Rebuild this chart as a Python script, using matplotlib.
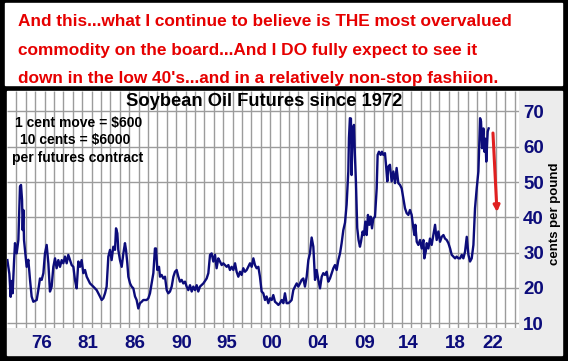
import matplotlib
matplotlib.use('Agg')
import matplotlib.pyplot as plt
from matplotlib.patches import Rectangle

plt.rcParams['font.family'] = ['Liberation Sans', 'DejaVu Sans']

# Soybean oil futures, cents per pound
years = [1972.04, 1972.25, 1972.39, 1972.50, 1972.60, 1972.74, 1972.85, 1973.03, 1973.21, 1973.38,
         1973.49, 1973.60, 1973.67, 1973.74, 1973.81, 1973.91, 1974.09, 1974.27, 1974.45, 1974.62,
         1974.80, 1975.16, 1975.33, 1975.51, 1975.69, 1975.87, 1976.04, 1976.22, 1976.40, 1976.57,
         1976.75, 1976.93, 1977.11, 1977.28, 1977.46, 1977.64, 1977.82, 1977.99, 1978.17, 1978.35,
         1978.52, 1978.70, 1978.88, 1979.06, 1979.23, 1979.41, 1979.59, 1979.77, 1979.94, 1980.12,
         1980.30, 1980.48, 1980.83, 1981.18, 1981.54, 1981.89, 1982.07, 1982.25, 1982.43, 1982.60,
         1982.78, 1982.96, 1983.13, 1983.31, 1983.49, 1983.60, 1983.74, 1983.84, 1984.02, 1984.20,
         1984.38, 1984.55, 1984.66, 1984.80, 1984.91, 1985.09, 1985.26, 1985.44, 1985.62, 1985.79,
         1985.97, 1986.15, 1986.33, 1986.50, 1986.86, 1987.04, 1987.21, 1987.39, 1987.57, 1987.74,
         1987.85, 1987.99, 1988.17, 1988.28, 1988.45, 1988.63, 1988.81, 1988.99, 1989.16, 1989.34,
         1989.52, 1989.70, 1989.87, 1990.05, 1990.23, 1990.40, 1990.58, 1990.76, 1990.94, 1991.11,
         1991.29, 1991.47, 1991.65, 1991.82, 1992.00, 1992.18, 1992.35, 1992.53, 1992.89, 1993.24,
         1993.42, 1993.60, 1993.77, 1993.95, 1994.13, 1994.30, 1994.48, 1994.66, 1994.84, 1995.01,
         1995.19, 1995.37, 1995.55, 1995.72, 1995.90, 1996.08, 1996.26, 1996.43, 1996.61, 1996.79,
         1996.96, 1997.14, 1997.32, 1997.50, 1997.67, 1997.85, 1998.03, 1998.21, 1998.38, 1998.56,
         1998.74, 1998.91, 1999.09, 1999.27, 1999.45, 1999.62, 1999.80, 1999.98, 2000.16, 2000.33,
         2000.51, 2000.69, 2000.87, 2001.04, 2001.22, 2001.40, 2001.57, 2001.75, 2001.93, 2002.11,
         2002.28, 2002.46, 2002.64, 2002.82, 2002.99, 2003.17, 2003.35, 2003.52, 2003.70, 2003.88,
         2004.06, 2004.23, 2004.41, 2004.59, 2004.77, 2004.94, 2005.12, 2005.30, 2005.48, 2005.65,
         2005.83, 2006.01, 2006.18, 2006.36, 2006.54, 2006.72, 2006.89, 2007.07, 2007.25, 2007.43,
         2007.60, 2007.78, 2007.96, 2008.13, 2008.24, 2008.31, 2008.38, 2008.48, 2008.59, 2008.66,
         2008.77, 2008.91, 2009.01, 2009.12, 2009.26, 2009.40, 2009.55, 2009.66, 2009.83, 2009.98,
         2010.12, 2010.26, 2010.40, 2010.55, 2010.69, 2010.83, 2010.97, 2011.15, 2011.33, 2011.43,
         2011.57, 2011.75, 2011.89, 2012.04, 2012.21, 2012.32, 2012.46, 2012.57, 2012.74, 2012.92,
         2013.10, 2013.28, 2013.45, 2013.63, 2013.81, 2013.99, 2014.16, 2014.34, 2014.52, 2014.70,
         2014.87, 2015.05, 2015.23, 2015.34, 2015.44, 2015.59, 2015.76, 2015.94, 2016.12, 2016.30,
         2016.40, 2016.55, 2016.65, 2016.83, 2017.00, 2017.18, 2017.36, 2017.54, 2017.71, 2017.89,
         2018.07, 2018.25, 2018.43, 2018.60, 2018.78, 2018.96, 2019.14, 2019.31, 2019.49, 2019.67,
         2019.84, 2020.02, 2020.20, 2020.38, 2020.55, 2020.73, 2020.91, 2021.09, 2021.26, 2021.44,
         2021.62, 2021.79, 2021.97, 2022.15, 2022.26, 2022.33, 2022.43, 2022.54, 2022.68, 2022.79,
         2022.89, 2022.99, 2023.14, 2023.24]
cents = [27.9, 24.0, 17.5, 22.0, 18.5, 27.0, 32.7, 29.8, 33.6, 48.7,
         49.2, 45.0, 36.4, 42.1, 33.6, 30.8, 26.0, 28.0, 22.3, 17.6,
         16.1, 16.6, 19.4, 22.7, 22.3, 24.2, 29.8, 32.2, 27.0, 19.0,
         20.4, 26.0, 28.4, 25.6, 27.9, 26.0, 27.9, 27.0, 28.9, 27.0,
         29.4, 27.9, 26.5, 26.0, 22.3, 19.9, 27.5, 26.0, 27.9, 24.2,
         25.1, 23.2, 21.3, 20.4, 19.4, 17.6, 16.6, 17.1, 18.5, 20.4,
         28.9, 30.8, 27.9, 31.7, 30.8, 36.9, 35.5, 30.8, 27.9, 26.0,
         29.8, 32.7, 30.8, 27.0, 23.2, 21.3, 20.4, 19.9, 17.6, 16.6,
         14.2, 15.7, 16.1, 16.6, 16.6, 17.1, 18.5, 21.3, 24.2, 31.2,
         31.2, 25.1, 26.0, 23.2, 23.7, 22.7, 23.2, 19.4, 18.5, 19.0,
         20.4, 23.2, 24.6, 25.1, 23.2, 21.8, 22.3, 21.3, 21.8, 20.4,
         19.4, 20.8, 19.0, 20.4, 19.4, 20.8, 19.0, 20.4, 21.3, 22.7,
         24.2, 29.4, 29.8, 27.5, 29.4, 25.6, 28.4, 27.5, 26.5, 27.0,
         26.5, 26.0, 26.5, 25.1, 26.0, 25.1, 27.0, 24.6, 23.2, 24.6,
         23.7, 25.6, 24.6, 25.1, 26.0, 27.0, 26.0, 28.4, 26.5, 25.6,
         26.0, 23.2, 19.0, 18.5, 16.6, 17.6, 15.7, 17.1, 16.6, 18.0,
         16.1, 15.7, 15.2, 15.7, 16.6, 15.7, 18.5, 15.7, 15.7, 16.1,
         16.6, 19.4, 20.4, 21.3, 20.4, 21.3, 22.3, 22.7, 20.4, 23.2,
         27.9, 29.8, 34.3, 31.7, 22.3, 25.1, 22.3, 19.9, 23.2, 24.2,
         23.7, 24.6, 21.8, 22.7, 24.2, 25.6, 26.5, 25.1, 27.9, 29.8,
         32.7, 36.4, 38.5, 43.6, 49.2, 53.0, 62.5, 68.1, 68.0, 52.0,
         64.4, 66.2, 57.8, 50.2, 37.0, 33.6, 31.7, 33.1, 36.0, 35.0,
         38.8, 35.0, 40.7, 37.9, 40.2, 36.9, 39.7, 40.2, 48.2, 57.7,
         58.6, 57.7, 58.6, 57.7, 58.2, 54.9, 50.2, 54.4, 54.9, 50.2,
         53.0, 49.7, 54.0, 49.7, 49.2, 48.2, 45.4, 42.6, 41.2, 40.7,
         42.1, 40.7, 36.9, 35.0, 37.9, 33.1, 32.2, 33.6, 31.2, 33.6,
         28.4, 30.3, 32.7, 31.2, 34.0, 32.2, 35.0, 37.9, 33.6, 36.0,
         33.1, 34.5, 35.0, 34.0, 33.6, 32.7, 31.2, 29.4, 28.9, 28.4,
         28.9, 28.4, 28.4, 29.4, 28.4, 30.3, 34.5, 29.4, 27.5, 28.4,
         32.2, 42.6, 48.2, 53.0, 62.5, 68.1, 67.2, 59.6, 65.2, 58.6,
         62.3, 55.8, 64.3, 65.2]

# hand-placed year labels on the original chart
tick_labels = ['76', '81', '86', '90', '95', '00', '04', '09', '14', '18', '22']
tick_pos = [1975.72, 1980.62, 1985.62, 1990.62, 1995.40, 2000.19, 2005.09,
            2010.09, 2014.66, 2019.66, 2023.70]
grid_years = list(range(1973, 2027))
y_ticks = [10, 20, 30, 40, 50, 60, 70]

# projected move: from ~64 down to the low 40s
arrow_start = (2023.70, 63.9)
arrow_end = (2024.13, 41.5)

headline = ["And this...what I continue to believe is THE most overvalued",
            "commodity on the board...And I DO fully expect to see it",
            "down in the low 40's...and in a relatively non-stop fashiion."]
notes = ["1 cent move = $600", "10 cents = $6000", "per futures contract"]

W, H = 568, 361
NAVY = '#0c0c7a'
RED = '#e60000'
GRID = '#9c9c9c'

fig = plt.figure(figsize=(W / 100, H / 100), dpi=100, facecolor='black')


def box(x0, y0, x1, y1, color):
    # rectangle given in pixels from the top-left corner
    fig.add_artist(Rectangle((x0 / W, 1 - y1 / H), (x1 - x0) / W, (y1 - y0) / H,
                             transform=fig.transFigure, color=color, zorder=-1))


box(5, 3, 562, 85, 'white')
box(7, 91, 562, 355, '#ececec')

for i, line in enumerate(headline):
    fig.text(18 / W, 1 - (22 + 28 * i) / H, line, color=RED, fontsize=12.4,
             fontweight='bold', ha='left', va='center')

ax = fig.add_axes([7 / W, 1 - 328 / H, 512 / W, 237 / H])
ax.set_facecolor('white')

ax.set_xlim(1972.0, 2026.47)
ax.set_ylim(8.67, 75.8)

# grid: a line every year, and every 10 cents
ax.vlines(grid_years, 8.67, 75.8, colors=GRID, linewidths=1.0, zorder=1)
ax.hlines(y_ticks, 1972.0, 2026.47, colors=GRID, linewidths=1.0, zorder=1)

ax.plot(years, cents, color=NAVY, lw=1.7, solid_joinstyle='round', zorder=3)
ax.annotate('', xy=arrow_end, xytext=arrow_start,
            arrowprops=dict(arrowstyle='-|>', color='#e02020', lw=2.2,
                            mutation_scale=9, shrinkA=0, shrinkB=0), zorder=4)

ax.set_xticks(tick_pos)
ax.set_xticklabels(tick_labels)
ax.set_yticks(y_ticks)
ax.yaxis.tick_right()
ax.tick_params(which='both', length=0)
ax.tick_params(axis='x', pad=5, labelsize=13.5, labelcolor=NAVY)
ax.tick_params(axis='y', pad=3, labelsize=13.5, labelcolor=NAVY)
for lab in ax.get_xticklabels() + ax.get_yticklabels():
    lab.set_fontweight('bold')
for s in ax.spines.values():
    s.set_visible(False)

fig.text(264 / W, 1 - 101 / H, 'Soybean Oil Futures since 1972', fontsize=13.2,
         fontweight='bold', ha='center', va='center')
for (x, y), t in zip([(15, 123), (20, 140), (12, 158)], notes):
    fig.text(x / W, 1 - y / H, t, fontsize=10, fontweight='bold', ha='left', va='center')
fig.text(555 / W, 1 - 214 / H, 'cents per pound', fontsize=9.5, fontweight='bold',
         rotation=90, ha='center', va='center')

fig.savefig('out.png', dpi=100, facecolor='black')
